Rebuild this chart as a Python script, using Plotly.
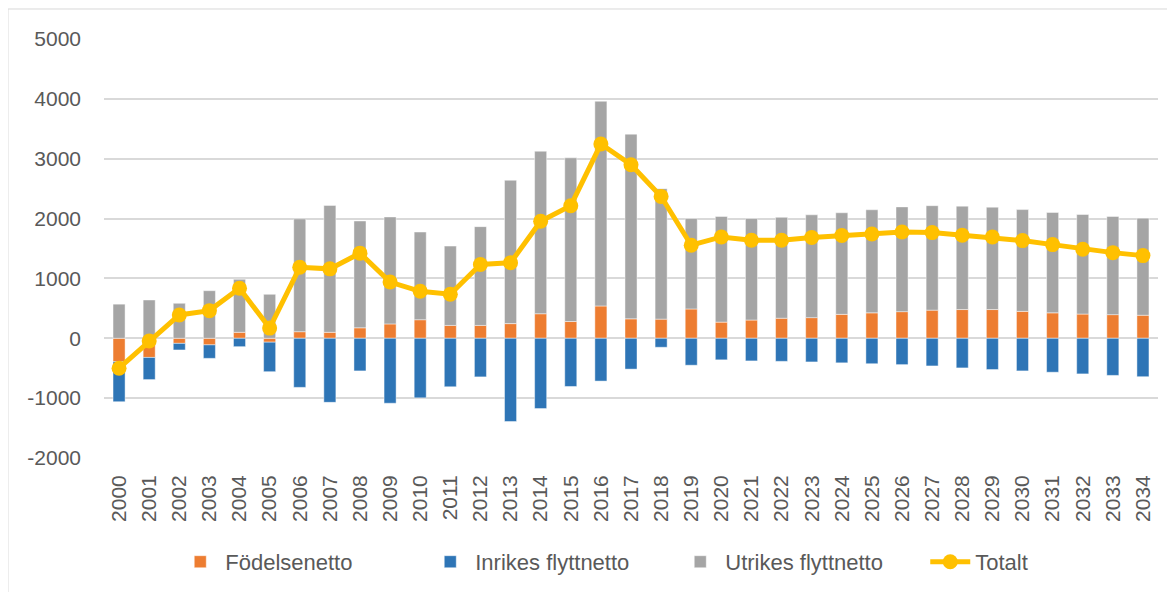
import plotly.graph_objects as go

years = [str(y) for y in range(2000, 2035)]

fodelsenetto = [-390, -320, -85, -110, 100, -65, 110, 100, 175, 240,
                310, 215, 215, 245, 410, 280, 540, 325, 320, 490,
                270, 305, 335, 345, 400, 425, 445, 470, 480, 480,
                450, 425, 405, 395, 385]

inrikes_flyttnetto = [-670, -370, -110, -225, -140, -493, -820, -1070, -545, -1085,
                      -995, -810, -645, -1390, -1175, -805, -715, -515, -150, -450,
                      -360, -378, -385, -395, -410, -425, -440, -462, -495, -522,
                      -545, -567, -595, -620, -642]

utrikes_flyttnetto = [570, 640, 585, 795, 886, 735, 1885, 2120, 1785, 1787,
                      1465, 1325, 1650, 2395, 2715, 2735, 3420, 3085, 2180, 1510,
                      1765, 1695, 1685, 1718, 1697, 1722, 1750, 1745, 1727, 1710,
                      1700, 1677, 1663, 1640, 1622]

totalt = [-500, -45, 390, 462, 836, 170, 1186, 1160, 1422, 940,
          785, 736, 1232, 1262, 1955, 2215, 3245, 2900, 2370, 1555,
          1693, 1637, 1637, 1683, 1716, 1743, 1776, 1766, 1722, 1693,
          1632, 1565, 1488, 1431, 1381]

y_tickvals = [-2000, -1000, 0, 1000, 2000, 3000, 4000, 5000]
y_ticktext = ["-2000", "-1000", "0", "1000", "2000", "3000", "4000", "5000"]

FONT = "Liberation Sans, Arial, sans-serif"
TXT = "#595959"
GRID = "#d9d9d9"

fig = go.Figure()
bar_line = dict(color="rgba(255,255,255,0.45)", width=1)
fig.add_trace(go.Bar(x=years, y=fodelsenetto, name="Födelsenetto",
                     marker=dict(color="#ED7D31", line=bar_line)))
fig.add_trace(go.Bar(x=years, y=inrikes_flyttnetto, name="Inrikes flyttnetto",
                     marker=dict(color="#2E75B6", line=bar_line)))
fig.add_trace(go.Bar(x=years, y=utrikes_flyttnetto, name="Utrikes flyttnetto",
                     marker=dict(color="#A5A5A5", line=bar_line)))
fig.add_trace(go.Scatter(x=years, y=totalt, name="Totalt", mode="lines+markers",
                         line=dict(color="#FFC000", width=5),
                         marker=dict(color="#FFC000", size=15, symbol="circle")))

fig.update_layout(
    width=1175, height=592,
    margin=dict(l=96, r=25, t=31, b=142, autoexpand=False),
    paper_bgcolor="white", plot_bgcolor="white",
    barmode="relative", bargap=0.6,
    font=dict(family=FONT, size=21, color=TXT),
    showlegend=True,
    legend=dict(orientation="h", x=0.0676, xanchor="left", y=-0.248, yanchor="middle",
                font=dict(family=FONT, size=22, color=TXT),
                entrywidth=195, entrywidthmode="pixels",
                traceorder="normal", itemwidth=40, bgcolor="rgba(0,0,0,0)"),
    xaxis=dict(type="category", range=[-0.5, len(years) - 0.5], tickangle=-90,
               showgrid=False, showline=False, ticks="", ticklabelstandoff=12,
               automargin=False, tickfont=dict(family=FONT, size=21, color=TXT)),
    yaxis=dict(range=[-2000, 5000], tickvals=y_tickvals, ticktext=y_ticktext,
               showgrid=True, gridcolor=GRID, gridwidth=1.5, zeroline=True,
               zerolinecolor=GRID, zerolinewidth=1.5, showline=False, ticks="",
               ticklabelstandoff=22, automargin=False,
               tickfont=dict(family=FONT, size=21, color=TXT)),
    shapes=[dict(type="rect", xref="paper", yref="paper",
                 x0=-0.0911, x1=1.04, y0=-0.40, y1=1.0716,
                 line=dict(color=GRID, width=1), fillcolor="rgba(0,0,0,0)",
                 layer="below")],
)

fig.write_html("out.html")
